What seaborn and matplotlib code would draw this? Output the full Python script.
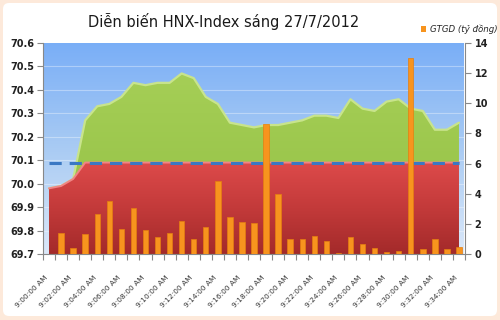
import numpy as np
import matplotlib
matplotlib.use("Agg")
import matplotlib.pyplot as plt
import seaborn as sns
from matplotlib.patches import FancyBboxPatch, Patch
from matplotlib.colors import LinearSegmentedColormap
from matplotlib.transforms import IdentityTransform

# ---------------- data ----------------
times = ["9:00:00 AM", "9:01:00 AM", "9:02:00 AM", "9:03:00 AM", "9:04:00 AM",
         "9:05:00 AM", "9:06:00 AM", "9:07:00 AM", "9:08:00 AM", "9:09:00 AM",
         "9:10:00 AM", "9:11:00 AM", "9:12:00 AM", "9:13:00 AM", "9:14:00 AM",
         "9:15:00 AM", "9:16:00 AM", "9:17:00 AM", "9:18:00 AM", "9:19:00 AM",
         "9:20:00 AM", "9:21:00 AM", "9:22:00 AM", "9:23:00 AM", "9:24:00 AM",
         "9:25:00 AM", "9:26:00 AM", "9:27:00 AM", "9:28:00 AM", "9:29:00 AM",
         "9:30:00 AM", "9:31:00 AM", "9:32:00 AM", "9:33:00 AM", "9:34:00 AM"]
hnx_index = [69.98, 69.99, 70.02, 70.27, 70.33, 70.34, 70.37, 70.43, 70.42, 70.43,
             70.43, 70.47, 70.45, 70.37, 70.34, 70.26, 70.25, 70.24, 70.25, 70.25,
             70.26, 70.27, 70.29, 70.29, 70.28, 70.36, 70.32, 70.31, 70.35, 70.36,
             70.32, 70.31, 70.23, 70.23, 70.26]
gtgd = [0, 1.37, 0.42, 1.31, 2.63, 3.52, 1.64, 3.07, 1.59, 1.11,
        1.42, 2.19, 1.0, 1.79, 4.84, 2.48, 2.12, 2.07, 8.6, 4.0,
        1.0, 1.0, 1.17, 0.86, 0.07, 1.1, 0.66, 0.4, 0.11, 0.22,
        13.0, 0.31, 1.0, 0.31, 0.48]
reference = 70.09
left_ticks = [69.7, 69.8, 69.9, 70.0, 70.1, 70.2, 70.3, 70.4, 70.5, 70.6]
left_labels = ["69.7", "69.8", "69.9", "70.0", "70.1", "70.2", "70.3", "70.4", "70.5", "70.6"]
right_ticks = [0, 2, 4, 6, 8, 10, 12, 14]
title = "Diễn biến HNX-Index sáng 27/7/2012"
legend_label = "GTGD (tỷ đồng)"

# ---------------- style ----------------
sns.set_style("white")
plt.rcParams['font.family'] = ['DejaVu Sans']

fig = plt.figure(figsize=(5, 3.2), dpi=100, facecolor='#fde9da')
fig.patches.append(FancyBboxPatch((3, 4), 494, 313,
                                  boxstyle="round,pad=0,rounding_size=6",
                                  transform=IdentityTransform(),
                                  fc='white', ec='none', zorder=-10))

ax = fig.add_axes([0.086, 0.2063, 0.844, 0.6594])
ax.patch.set_alpha(0)
ax2 = ax.twinx()
ax2.patch.set_alpha(0)

x = np.arange(len(times))
idx = np.array(hnx_index)
below = np.minimum(idx, reference)

ymin, ymax = 69.7, 70.6
xmin, xmax = -0.49, 34.4

# background gradient
bg = LinearSegmentedColormap.from_list("bg", ["#dbe8f9", "#a9cbf3", "#79aef7"])
grad = np.linspace(0, 1, 256).reshape(-1, 1)
ax.imshow(grad, extent=[xmin, xmax, ymin, ymax], origin='lower', aspect='auto',
          cmap=bg, zorder=0)
for t in left_ticks[1:-1]:
    ax.axhline(t, color='white', lw=0.8, alpha=0.35, zorder=0.5)

# green area (index)
green_cm = LinearSegmentedColormap.from_list("g", ["#8ab83c", "#9cc74d", "#a6cf57"])
pg = ax.fill_between(x, ymin, idx, facecolor='none', edgecolor='none')
img = ax.imshow(grad, extent=[xmin, xmax, ymin, 70.5], origin='lower', aspect='auto',
                cmap=green_cm, zorder=1)
img.set_clip_path(pg.get_paths()[0], ax.transData)
sns.lineplot(x=x, y=idx, ax=ax, color='#c8e48c', lw=1.6, zorder=1.2)

# red area (below reference)
red_cm = LinearSegmentedColormap.from_list("r", ["#a32a2a", "#c33a3a", "#dd4a4a"])
pr = ax.fill_between(x, ymin, below, facecolor='none', edgecolor='none')
img2 = ax.imshow(grad, extent=[xmin, xmax, ymin, reference], origin='lower', aspect='auto',
                 cmap=red_cm, zorder=2)
img2.set_clip_path(pr.get_paths()[0], ax.transData)
sns.lineplot(x=x, y=below, ax=ax, color='#f08585', lw=1.4, zorder=2.2)

# reference dashed line
ax.plot([x[0], x[-1]], [reference, reference], color='#3b78c3', lw=2.2,
        ls=(0, (4, 2.6)), zorder=3, solid_capstyle='butt')

# bars
sns.barplot(x=x, y=gtgd, native_scale=True, ax=ax2, color='#f7941e', width=0.45,
            saturation=1, errorbar=None, edgecolor='#e57f10', linewidth=0.5, zorder=3)

# axes
ax.set_xlim(xmin, xmax)
ax.set_ylim(ymin, ymax)
ax2.set_ylim(0, 14)
ax2.set_xlim(xmin, xmax)

ax.set_yticks(left_ticks)
ax.set_yticklabels(left_labels, fontsize=7, fontweight='bold', color='#222222')
ax2.set_yticks(right_ticks)
ax2.set_yticklabels([str(t) for t in right_ticks], fontsize=7, fontweight='bold', color='#222222')
ax.tick_params(axis='y', length=4, width=0.8, color='#888888', pad=2, direction='out', left=True)
ax2.tick_params(axis='y', length=4, width=0.8, color='#888888', pad=3, direction='out', right=True)

ax.set_xticks(x[::2])
ax.set_xticklabels(times[::2], rotation=45, ha='right', fontsize=5.3, color='#333333')
ax.set_xticks(np.arange(-0.5, 35, 1), minor=True)
ax.tick_params(axis='x', which='major', length=0, pad=15)
ax.tick_params(axis='x', which='minor', length=4, width=0.8, color='#888888', direction='out', bottom=True)
ax2.set_xlabel("")
ax2.set_ylabel("")
ax.set_xlabel("")
ax.set_ylabel("")

for a in (ax, ax2):
    for s in a.spines.values():
        s.set_visible(False)
ax.spines['left'].set_visible(True)
ax.spines['left'].set_color('#888888')
ax.spines['bottom'].set_visible(True)
ax.spines['bottom'].set_color('#888888')
ax2.spines['right'].set_visible(True)
ax2.spines['right'].set_color('#888888')
ax.grid(False)
ax2.grid(False)

fig.text(0.448, 0.933, title, ha='center', va='center', fontsize=10.5, color='#1a1a1a')
fig.legend(handles=[Patch(fc='#f7941e', ec='none')], labels=[legend_label],
           loc='center right', bbox_to_anchor=(0.995, 0.909), frameon=False,
           prop={'style': 'italic', 'size': 6.2}, handlelength=0.6, handleheight=0.6,
           handletextpad=0.4, borderaxespad=0, borderpad=0)

fig.savefig("out.png", dpi=100, facecolor=fig.get_facecolor())
